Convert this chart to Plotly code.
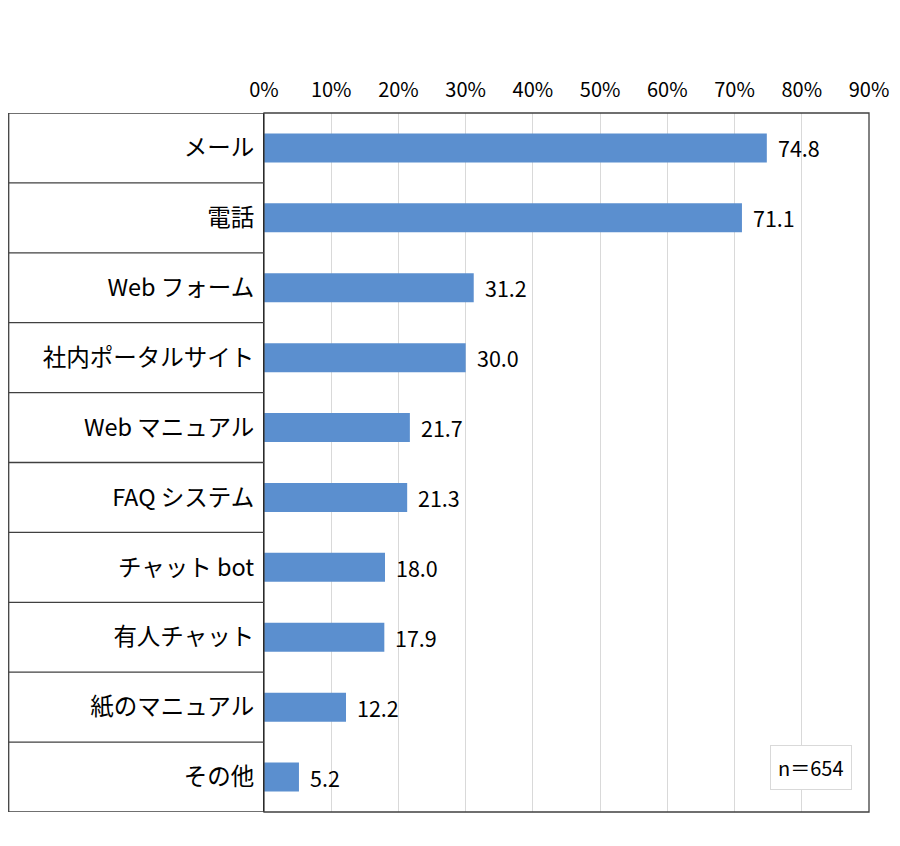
import plotly.graph_objects as go

categories = ['メール', '電話', 'Web フォーム', '社内ポータルサイト', 'Web マニュアル',
              'FAQ システム', 'チャット bot', '有人チャット', '紙のマニュアル', 'その他']
values = [74.8, 71.1, 31.2, 30.0, 21.7, 21.3, 18.0, 17.9, 12.2, 5.2]
x_ticks = [0, 10, 20, 30, 40, 50, 60, 70, 80, 90]
n_label = 'n＝654'

FONT = 'Noto Sans CJK JP'
BAR_COLOR = '#5B8FCF'
LINE_COLOR = '#404040'

# figure geometry (px); the page puts the figure 8px in from the top-left
W, H = 892, 838
ML, MR, MT, MB = 256, 31, 105, 34
plot_w = W - ML - MR
plot_h = H - MT - MB
box_left = (0.7 - ML) / plot_w   # left edge of the label table, in paper units

fig = go.Figure()

fig.add_trace(go.Bar(
    y=list(range(len(categories))),
    x=values,
    orientation='h',
    marker=dict(color=BAR_COLOR, line=dict(width=0)),
    hoverinfo='x+y',
))

# value labels to the right of each bar
for i, v in enumerate(values):
    fig.add_annotation(
        x=v, y=i, xref='x', yref='y',
        text=f'{v:.1f}', showarrow=False,
        xanchor='left', xshift=9,
        font=dict(family=FONT, size=21.5, color='black'),
    )

# label table on the left: row separators + outer box
shapes = []
for i in range(len(categories) + 1):
    shapes.append(dict(
        type='line', xref='paper', yref='y',
        x0=box_left, x1=0, y0=i - 0.5, y1=i - 0.5,
        line=dict(color=LINE_COLOR, width=1.3),
    ))
shapes.append(dict(type='line', xref='paper', yref='paper',
                   x0=box_left, x1=box_left, y0=0, y1=1,
                   line=dict(color=LINE_COLOR, width=1.3)))
# plot frame
shapes.append(dict(type='rect', xref='paper', yref='paper',
                   x0=0, x1=1, y0=0, y1=1,
                   line=dict(color=LINE_COLOR, width=1.3)))

fig.add_annotation(
    x=(803 - ML) / plot_w, y=(H - MB - 759.5) / plot_h,
    xref='paper', yref='paper', xanchor='center', yanchor='middle',
    text=n_label, showarrow=False,
    font=dict(family=FONT, size=20, color='black'),
    bordercolor='#d9d9d9', borderwidth=1, borderpad=7,
    bgcolor='white',
)

fig.update_layout(
    width=W, height=H,
    margin=dict(l=ML, r=MR, t=MT, b=MB),
    paper_bgcolor='white', plot_bgcolor='white',
    showlegend=False,
    bargap=0.585,
    shapes=shapes,
    font=dict(family=FONT, color='black'),
    xaxis=dict(
        side='top', range=[0, 90],
        tickvals=x_ticks, ticktext=[f'{t}%' for t in x_ticks],
        tickfont=dict(family=FONT, size=20),
        showgrid=True, gridcolor='#d9d9d9', gridwidth=1,
        zeroline=False, showline=False,
        ticks='', ticklabelstandoff=11,
    ),
    yaxis=dict(
        range=[len(categories) - 0.5, -0.5],
        tickvals=list(range(len(categories))), ticktext=categories,
        tickfont=dict(family=FONT, size=23.5),
        showgrid=False, zeroline=False,
        showline=True, linecolor='black', linewidth=1.3,
        ticks='', ticklabelstandoff=4,
    ),
)

fig.write_html('out.html')
